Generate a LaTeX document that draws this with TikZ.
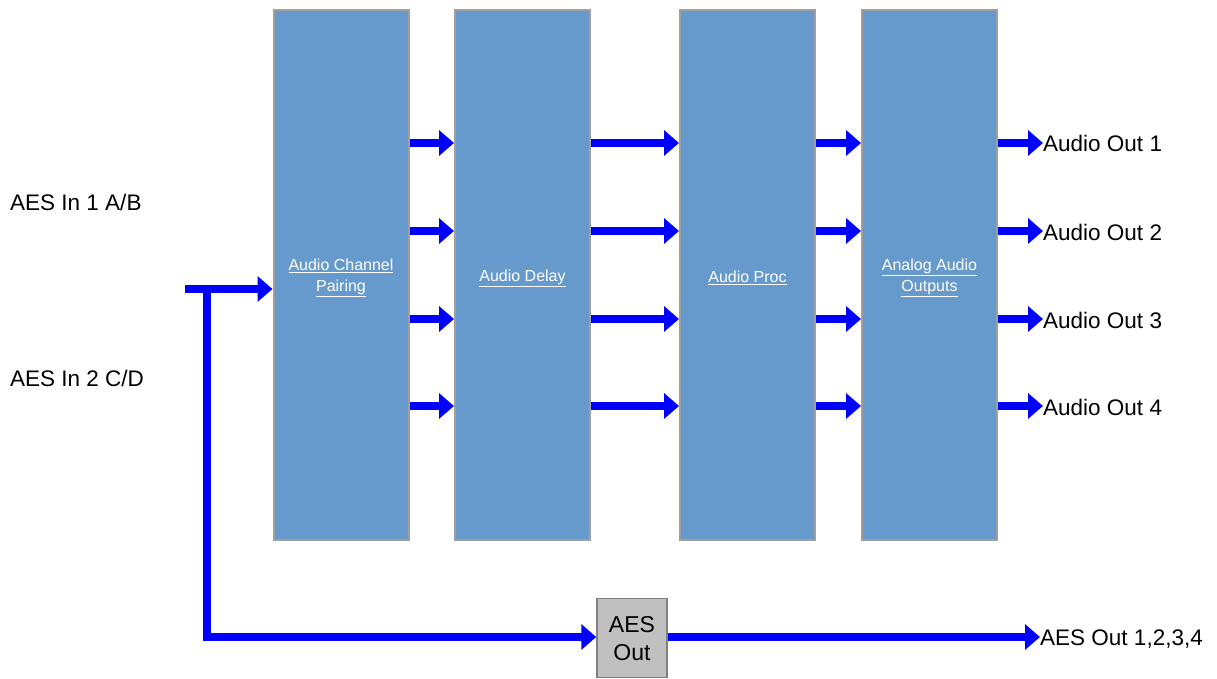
\documentclass[tikz,border=0pt]{standalone}
\usepackage{fontspec}
\setmainfont{Liberation Sans}
\usetikzlibrary{arrows.meta,calc}
\definecolor{blockblue}{RGB}{102,153,204}
\definecolor{aesgray}{RGB}{192,192,192}
\definecolor{arrblue}{RGB}{0,0,255}
\tikzset{
  block/.style={draw=gray!75, line width=2pt, fill=blockblue, minimum width=135pt, minimum height=529pt, inner sep=0pt},
  blocktext/.style={text=white, font=\fontsize{16}{21}\selectfont, align=center, inner sep=0pt},
  aesbox/.style={draw=gray, line width=1.5pt, fill=aesgray, minimum width=70pt, minimum height=79pt, inner sep=0pt, font=\fontsize{23}{28}\selectfont, align=center, text depth=0pt},
  arr/.style={draw=arrblue, line width=8pt, -{Triangle[length=15pt,width=25pt]}},
  wire/.style={draw=arrblue, line width=8pt},
  lbl/.style={font=\fontsize{22.5}{27}\selectfont, inner sep=0pt},
}
\begin{document}
\begin{tikzpicture}[x=1pt,y=-1pt]
\useasboundingbox (0,0) rectangle (1217,679);
\node[block] (b1) at (341,275) {};
\node[block] (b2) at (522.5,275) {};
\node[block] (b3) at (747.5,275) {};
\node[block] (b4) at (929.5,275) {};
\node[blocktext] (t1) at ($(b1.center)+(0,3)$) {\underline{Audio Channel}\\\underline{Pairing}};
\node[blocktext] (t2) at ($(b2.center)+(0,3)$) {\underline{Audio Delay}};
\node[blocktext] (t3) at ($(b3.center)+(0,3)$) {\underline{Audio Proc}};
\node[blocktext] (t4) at ($(b4.center)+(0,3)$) {\underline{Analog Audio}\\\underline{Outputs}};
\node[aesbox] (aes) at (632,638) {AES\\Out};

\node[lbl, anchor=base west] (in1) at (10,210) {AES In 1 A/B};
\node[lbl, anchor=base west] (in2) at (10,386) {AES In 2 C/D};

\foreach \y [count=\i] in {143,231,319,406} {
  \coordinate (r\i) at (0,\y);
  \draw[arr] (b1.east |- r\i) -- (b2.west |- r\i);
  \draw[arr] (b2.east |- r\i) -- (b3.west |- r\i);
  \draw[arr] (b3.east |- r\i) -- (b4.west |- r\i);
  \coordinate (o\i) at (1043,\y);
  \draw[arr] (b4.east |- r\i) -- (o\i);
  \node[lbl, anchor=base west] (out\i) at ($(o\i)+(0,9)$) {Audio Out \i};
}

\coordinate (s) at (185,289);
\coordinate (j) at (207,289);
\coordinate (c) at (207,637);
\draw[arr] (s) -- (b1.west |- s);
\draw[wire] ($(j)+(0,-4)$) -- ($(c)+(0,4)$);
\draw[arr] ($(c)+(-4,0)$) -- (aes.west |- c);
\coordinate (ae) at (1040,637);
\draw[arr] (aes.east |- c) -- (ae);
\node[lbl, anchor=base west] (aesout) at ($(ae)+(0,8)$) {AES Out 1,2,3,4};
\end{tikzpicture}
\end{document}
